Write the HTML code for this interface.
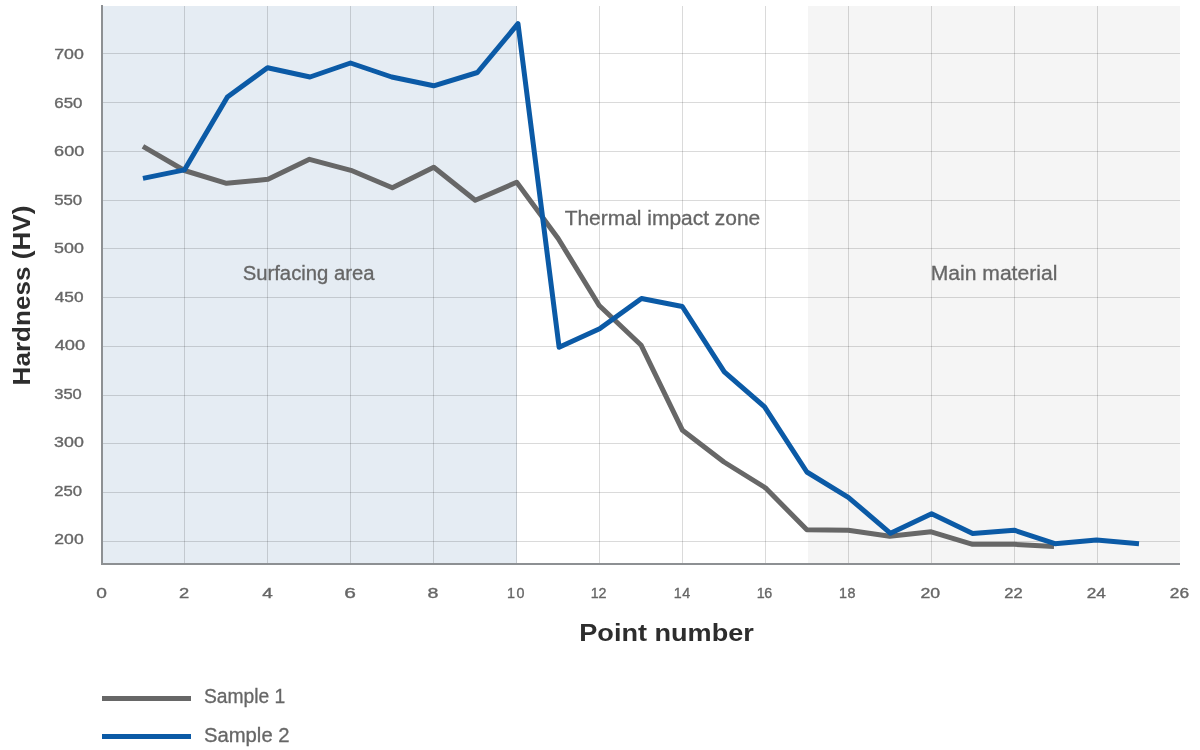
<!DOCTYPE html>
<html><head><meta charset="utf-8"><title>Hardness (HV) by point number</title>
<style>
html,body{margin:0;padding:0;background:#fff;width:1200px;height:750px;overflow:hidden}
svg{display:block;will-change:transform;font-family:"Liberation Sans",sans-serif}
</style></head><body>
<svg width="1200" height="750" viewBox="0 0 1200 750">
<rect x="103" y="6" width="414" height="557" fill="#e5ecf3"/>
<rect x="808" y="6" width="372" height="557" fill="#f5f5f5"/>
<rect x="103" y="53" width="1077" height="1" fill="rgba(0,0,0,0.145)"/>
<rect x="103" y="102" width="1077" height="1" fill="rgba(0,0,0,0.145)"/>
<rect x="103" y="151" width="1077" height="1" fill="rgba(0,0,0,0.145)"/>
<rect x="103" y="200" width="1077" height="1" fill="rgba(0,0,0,0.145)"/>
<rect x="103" y="248" width="1077" height="1" fill="rgba(0,0,0,0.145)"/>
<rect x="103" y="297" width="1077" height="1" fill="rgba(0,0,0,0.145)"/>
<rect x="103" y="346" width="1077" height="1" fill="rgba(0,0,0,0.145)"/>
<rect x="103" y="395" width="1077" height="1" fill="rgba(0,0,0,0.145)"/>
<rect x="103" y="443" width="1077" height="1" fill="rgba(0,0,0,0.145)"/>
<rect x="103" y="492" width="1077" height="1" fill="rgba(0,0,0,0.145)"/>
<rect x="103" y="541" width="1077" height="1" fill="rgba(0,0,0,0.145)"/>
<rect x="184" y="6" width="1" height="557" fill="rgba(0,0,0,0.145)"/>
<rect x="267" y="6" width="1" height="557" fill="rgba(0,0,0,0.145)"/>
<rect x="350" y="6" width="1" height="557" fill="rgba(0,0,0,0.145)"/>
<rect x="433" y="6" width="1" height="557" fill="rgba(0,0,0,0.145)"/>
<rect x="516" y="6" width="1" height="557" fill="rgba(0,0,0,0.145)"/>
<rect x="599" y="6" width="1" height="557" fill="rgba(0,0,0,0.145)"/>
<rect x="682" y="6" width="1" height="557" fill="rgba(0,0,0,0.145)"/>
<rect x="765" y="6" width="1" height="557" fill="rgba(0,0,0,0.145)"/>
<rect x="848" y="6" width="1" height="557" fill="rgba(0,0,0,0.145)"/>
<rect x="931" y="6" width="1" height="557" fill="rgba(0,0,0,0.145)"/>
<rect x="1014" y="6" width="1" height="557" fill="rgba(0,0,0,0.145)"/>
<rect x="1097" y="6" width="1" height="557" fill="rgba(0,0,0,0.145)"/>
<rect x="101" y="5" width="2" height="560" fill="#8d9093"/>
<rect x="101" y="563" width="1079" height="2" fill="#8d9093"/>
<polyline points="142.95,146.40 184.40,170.50 226.55,183.30 268.00,179.30 309.45,159.30 350.90,170.30 392.35,187.80 433.80,167.30 475.25,200.30 516.70,182.30 558.15,238.50 599.20,305.50 641.20,345.30 682.50,430.30 723.95,462.00 765.40,487.80 806.85,529.80 848.30,530.20 889.75,536.20 931.20,531.80 972.65,544.30 1014.10,544.30 1054.00,546.40" fill="none" stroke="#676767" stroke-width="5" stroke-linejoin="round" stroke-linecap="butt"/>
<polyline points="142.95,178.40 184.40,169.90 227.40,97.00 267.50,67.70 310.00,77.00 350.50,63.00 391.70,77.00 433.70,85.80 477.40,72.50 518.00,23.70 559.10,347.30 599.60,328.80 641.50,298.50 682.30,306.50 724.30,371.80 764.60,406.80 806.85,472.00 848.30,497.30 890.50,533.30 931.60,513.80 972.65,533.50 1014.10,530.20 1054.90,543.70 1096.50,540.00 1139.00,543.80" fill="none" stroke="#0b5aa6" stroke-width="5" stroke-linejoin="round" stroke-linecap="butt"/>
<text stroke="#666666" stroke-width="0.35" x="54.143" y="59.0" font-size="14.3" font-weight="normal" fill="#666666" textLength="29.658" lengthAdjust="spacingAndGlyphs">700</text>
<text stroke="#666666" stroke-width="0.35" x="54.354" y="107.52000000000004" font-size="14.3" font-weight="normal" fill="#666666" textLength="28.067" lengthAdjust="spacingAndGlyphs">650</text>
<text stroke="#666666" stroke-width="0.35" x="54.119" y="156.04000000000002" font-size="14.3" font-weight="normal" fill="#666666" textLength="30.153" lengthAdjust="spacingAndGlyphs">600</text>
<text stroke="#666666" stroke-width="0.35" x="54.183" y="204.56" font-size="14.3" font-weight="normal" fill="#666666" textLength="27.982" lengthAdjust="spacingAndGlyphs">550</text>
<text stroke="#666666" stroke-width="0.35" x="54.052" y="253.08000000000004" font-size="14.3" font-weight="normal" fill="#666666" textLength="29.803" lengthAdjust="spacingAndGlyphs">500</text>
<text stroke="#666666" stroke-width="0.35" x="54.777" y="301.6" font-size="14.3" font-weight="normal" fill="#666666" textLength="28.781" lengthAdjust="spacingAndGlyphs">450</text>
<text stroke="#666666" stroke-width="0.35" x="54.679" y="350.12" font-size="14.3" font-weight="normal" fill="#666666" textLength="30.519" lengthAdjust="spacingAndGlyphs">400</text>
<text stroke="#666666" stroke-width="0.35" x="54.258" y="398.64000000000004" font-size="14.3" font-weight="normal" fill="#666666" textLength="27.551" lengthAdjust="spacingAndGlyphs">350</text>
<text stroke="#666666" stroke-width="0.35" x="54.115" y="447.16" font-size="14.3" font-weight="normal" fill="#666666" textLength="29.708" lengthAdjust="spacingAndGlyphs">300</text>
<text stroke="#666666" stroke-width="0.35" x="54.318" y="495.68000000000006" font-size="14.3" font-weight="normal" fill="#666666" textLength="27.789" lengthAdjust="spacingAndGlyphs">250</text>
<text stroke="#666666" stroke-width="0.35" x="54.355" y="544.2" font-size="14.3" font-weight="normal" fill="#666666" textLength="29.332" lengthAdjust="spacingAndGlyphs">200</text>
<text stroke="#666666" stroke-width="0.35" x="96.198" y="598" font-size="14.3" font-weight="normal" fill="#666666" textLength="10.654" lengthAdjust="spacingAndGlyphs">0</text>
<text stroke="#666666" stroke-width="0.35" x="179.097" y="598" font-size="14.3" font-weight="normal" fill="#666666" textLength="10.211" lengthAdjust="spacingAndGlyphs">2</text>
<text stroke="#666666" stroke-width="0.35" x="262.179" y="598" font-size="14.3" font-weight="normal" fill="#666666" textLength="10.531" lengthAdjust="spacingAndGlyphs">4</text>
<text stroke="#666666" stroke-width="0.35" x="344.357" y="598" font-size="14.3" font-weight="normal" fill="#666666" textLength="11.619" lengthAdjust="spacingAndGlyphs">6</text>
<text stroke="#666666" stroke-width="0.35" x="427.504" y="598" font-size="14.3" font-weight="normal" fill="#666666" textLength="10.936" lengthAdjust="spacingAndGlyphs">8</text>
<text stroke="#666666" stroke-width="0.35" x="506.902" y="598" font-size="14.3" font-weight="normal" fill="#666666" textLength="17.494" lengthAdjust="spacing">10</text>
<text stroke="#666666" stroke-width="0.35" x="590.832" y="598" font-size="14.3" font-weight="normal" fill="#666666" textLength="15.627" lengthAdjust="spacing">12</text>
<text stroke="#666666" stroke-width="0.35" x="673.63" y="598" font-size="14.3" font-weight="normal" fill="#666666" textLength="16.45" lengthAdjust="spacing">14</text>
<text stroke="#666666" stroke-width="0.35" x="756.685" y="598" font-size="14.3" font-weight="normal" fill="#666666" textLength="15.642" lengthAdjust="spacing">16</text>
<text stroke="#666666" stroke-width="0.35" x="838.979" y="598" font-size="14.3" font-weight="normal" fill="#666666" textLength="16.392" lengthAdjust="spacing">18</text>
<text stroke="#666666" stroke-width="0.35" x="920.481" y="598" font-size="14.3" font-weight="normal" fill="#666666" textLength="19.674" lengthAdjust="spacingAndGlyphs">20</text>
<text stroke="#666666" stroke-width="0.35" x="1004.377" y="598" font-size="14.3" font-weight="normal" fill="#666666" textLength="18.345" lengthAdjust="spacingAndGlyphs">22</text>
<text stroke="#666666" stroke-width="0.35" x="1086.821" y="598" font-size="14.3" font-weight="normal" fill="#666666" textLength="19.124" lengthAdjust="spacingAndGlyphs">24</text>
<text stroke="#666666" stroke-width="0.35" x="1169.807" y="598" font-size="14.3" font-weight="normal" fill="#666666" textLength="19.267" lengthAdjust="spacingAndGlyphs">26</text>
<text stroke="#666666" stroke-width="0.3" x="242.65" y="279.9" font-size="19.4" font-weight="normal" fill="#666666" textLength="131.982" lengthAdjust="spacingAndGlyphs">Surfacing area</text>
<text stroke="#666666" stroke-width="0.3" x="564.698" y="225.0" font-size="19.4" font-weight="normal" fill="#666666" textLength="195.491" lengthAdjust="spacingAndGlyphs">Thermal impact zone</text>
<text stroke="#666666" stroke-width="0.3" x="930.732" y="280.0" font-size="19.4" font-weight="normal" fill="#666666" textLength="126.625" lengthAdjust="spacingAndGlyphs">Main material</text>
<text x="579.311" y="640.9" font-size="24.4" font-weight="bold" fill="#2d2d2d" textLength="174.553" lengthAdjust="spacingAndGlyphs">Point number</text>
<text stroke="#666666" stroke-width="0.3" x="203.941" y="702.9" font-size="19.3" font-weight="normal" fill="#666666" textLength="81.355" lengthAdjust="spacingAndGlyphs">Sample 1</text>
<text stroke="#666666" stroke-width="0.3" x="203.946" y="742.1" font-size="19.3" font-weight="normal" fill="#666666" textLength="85.623" lengthAdjust="spacingAndGlyphs">Sample 2</text>
<g transform="translate(29.5,0) rotate(-90)"><text x="-385.425" y="0" font-size="24.4" font-weight="bold" fill="#2d2d2d" textLength="179.807" lengthAdjust="spacingAndGlyphs">Hardness (HV)</text></g>
<rect x="102" y="696" width="89" height="5" fill="#676767"/>
<rect x="102" y="734" width="89" height="5" fill="#0b5aa6"/>
</svg>
</body></html>
